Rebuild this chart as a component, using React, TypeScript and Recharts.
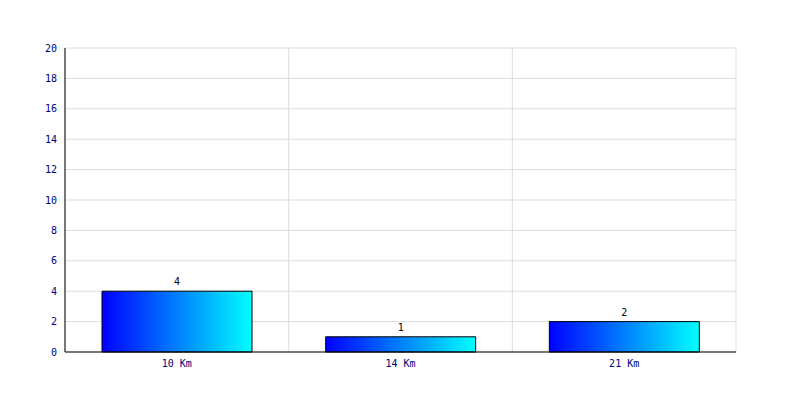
import React from 'react';
import { BarChart, Bar, XAxis, YAxis, CartesianGrid, LabelList } from 'recharts';

const categories = ['10 Km', '14 Km', '21 Km'];
const counts = [4, 1, 2];
const yTicks = [0, 2, 4, 6, 8, 10, 12, 14, 16, 18, 20];

const data = categories.map((name, i) => ({ name, count: counts[i], pos: i + 0.5 }));
const bandEdges = categories.map((_, i) => i + 1);

const font = '"DejaVu Sans Mono", monospace';

export default function App() {
  return (
    <div style={{ position: 'absolute', left: 0, top: 0, background: '#fff' }}>
      <BarChart
        width={800}
        height={400}
        data={data}
        margin={{ top: 48, right: 64, bottom: 18, left: 5 }}
        barSize={150}
      >
        <defs>
          <linearGradient id="barFill" x1="0" y1="0" x2="1" y2="0">
            <stop offset="0%" stopColor="#0000ff" />
            <stop offset="100%" stopColor="#00ffff" />
          </linearGradient>
        </defs>
        <CartesianGrid stroke="#dddddd" xAxisId="edges" />
        <XAxis
          dataKey="name"
          height={30}
          axisLine={{ stroke: '#000' }}
          tickLine={false}
          tick={{ fill: '#000080', fontSize: 10, fontFamily: font }}
          tickMargin={2}
        />
        <XAxis
          xAxisId="edges"
          type="number"
          dataKey="pos"
          domain={[0, categories.length]}
          ticks={bandEdges}
          hide
        />
        <YAxis
          width={60}
          domain={[0, 20]}
          ticks={yTicks}
          interval={0}
          axisLine={{ stroke: '#000' }}
          tickLine={false}
          tick={{ fill: '#000080', fontSize: 10, fontFamily: font }}
          tickMargin={2}
        />
        <Bar dataKey="count" fill="url(#barFill)" stroke="#000" strokeWidth={1} isAnimationActive={false}>
          <LabelList dataKey="count" position="top" offset={6} fill="#000" fontSize={10} fontFamily={font} />
        </Bar>
      </BarChart>
    </div>
  );
}
